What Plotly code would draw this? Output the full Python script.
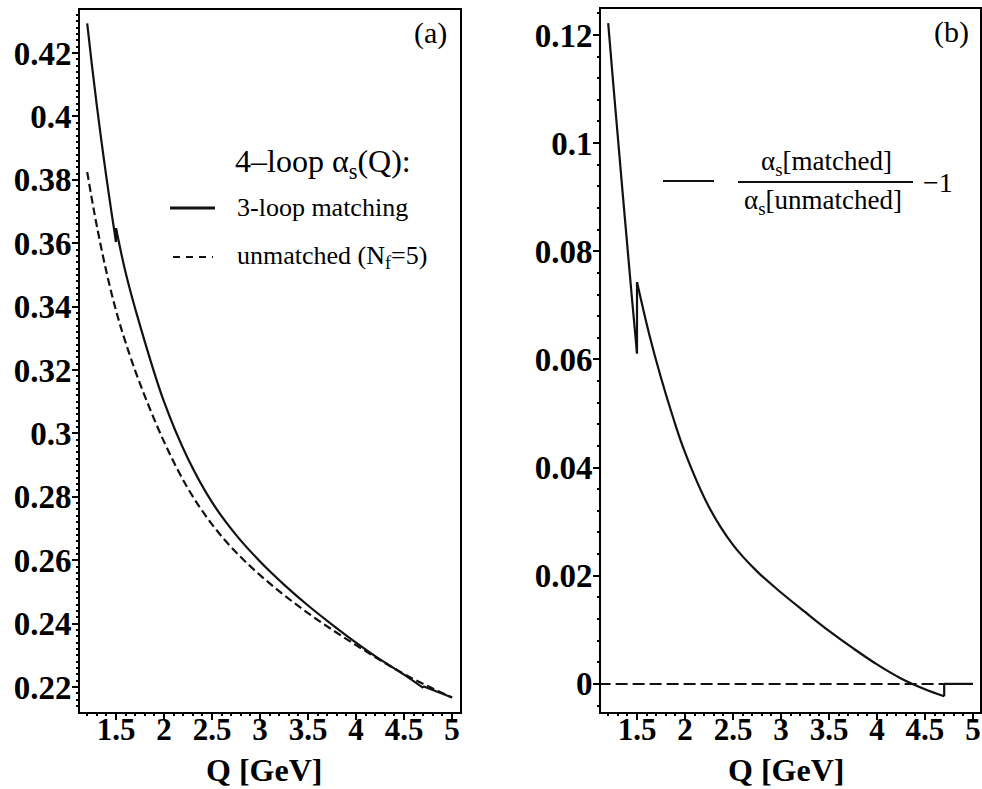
import plotly.graph_objects as go

# ---- data -------------------------------------------------------------
# 4-loop alpha_s(Q) with 3-loop threshold matching (jumps at 1.5 and 4.7 GeV)
q_matched = [1.2, 1.25, 1.3, 1.35, 1.4, 1.45, 1.5, 1.5, 1.6, 1.75, 2.0, 2.25, 2.5,
             2.75, 3.0, 3.25, 3.5, 3.75, 4.0, 4.25, 4.5, 4.7, 4.7, 5.0]
alpha_matched = [0.4294, 0.4160, 0.4035, 0.3918, 0.3808, 0.3704, 0.3604, 0.3648,
                 0.3508, 0.3341, 0.3100, 0.2920, 0.2783, 0.2680, 0.2596, 0.2523,
                 0.2457, 0.2397, 0.2340, 0.2287, 0.2239, 0.2197, 0.2202, 0.2167]

# 4-loop alpha_s(Q), unmatched, N_f = 5 throughout
q_unmatched = [1.2, 1.25, 1.3, 1.4, 1.5, 1.6, 1.75, 2.0, 2.25, 2.5, 2.75, 3.0,
               3.25, 3.5, 3.75, 4.0, 4.25, 4.5, 4.75, 5.0]
alpha_unmatched = [0.3825, 0.3737, 0.3655, 0.3510, 0.3388, 0.3287, 0.3157, 0.2974,
                   0.2826, 0.2713, 0.2625, 0.2553, 0.2490, 0.2433, 0.2381, 0.2332,
                   0.2285, 0.2241, 0.2202, 0.2167]

# relative difference alpha_s[matched]/alpha_s[unmatched] - 1
q_ratio = [1.2, 1.25, 1.3, 1.35, 1.4, 1.45, 1.5, 1.5, 1.625, 1.75, 1.875, 2.0,
           2.25, 2.5, 2.75, 3.0, 3.25, 3.5, 3.75, 4.0, 4.25, 4.5, 4.7, 4.7, 5.0]
ratio = [0.1222, 0.1115, 0.1012, 0.0909, 0.0808, 0.0708, 0.0611, 0.0743, 0.0648,
         0.0566, 0.0493, 0.0428, 0.0327, 0.0257, 0.0208, 0.0169, 0.0133, 0.0098,
         0.0066, 0.0036, 0.0010, -0.0010, -0.0023, 0.0, 0.0]

# reference line at zero
q_zero = [1.1, 5.0]
zero_line = [0.0, 0.0]

# ticks
x_tick_vals = [1.5, 2, 2.5, 3, 3.5, 4, 4.5, 5]
x_tick_text = ["1.5", "2", "2.5", "3", "3.5", "4", "4.5", "5"]
ya_tick_vals = [0.22, 0.24, 0.26, 0.28, 0.30, 0.32, 0.34, 0.36, 0.38, 0.40, 0.42]
ya_tick_text = ["0.22", "0.24", "0.26", "0.28", "0.3", "0.32", "0.34", "0.36",
                "0.38", "0.4", "0.42"]
yb_tick_vals = [0, 0.02, 0.04, 0.06, 0.08, 0.10, 0.12]
yb_tick_text = ["0", "0.02", "0.04", "0.06", "0.08", "0.1", "0.12"]

# minor tick spacing
x_minor_step = 0.1
ya_minor_step = 0.002
yb_minor_step = 0.004

# ---- layout helpers ---------------------------------------------------
W, H = 982, 789
SERIF = "Liberation Serif"
INK = "#111111"

XA_RANGE = [1.125, 5.083]
YA_RANGE = [0.2121, 0.4336]
XB_RANGE = [1.125, 5.073]
YB_RANGE = [-0.0052, 0.1248]


def px(x):
    return x / W


def py(y):
    return 1 - y / H


def pieces(q, v):
    """Split a curve at threshold jumps (repeated Q): smooth runs + vertical steps."""
    start = 0
    for i in range(1, len(q)):
        if q[i] == q[i - 1]:
            yield q[start:i], v[start:i], "spline"
            yield q[i - 1:i + 1], v[i - 1:i + 1], "linear"
            start = i
    yield q[start:], v[start:], "spline"


fig = go.Figure()


def add_curve(q, v, xa, ya, dash="solid", width=2.2):
    for xs, ys, shape in pieces(q, v):
        fig.add_trace(go.Scatter(
            x=xs, y=ys, mode="lines", xaxis=xa, yaxis=ya, showlegend=False,
            hoverinfo="skip",
            line=dict(color=INK, width=width, dash=dash, shape=shape, smoothing=1.0),
        ))


add_curve(q_unmatched, alpha_unmatched, "x", "y", dash="8px,4px")
add_curve(q_matched, alpha_matched, "x", "y")
add_curve(q_zero, zero_line, "x2", "y2", dash="12px,5px", width=2)
add_curve(q_ratio, ratio, "x2", "y2")

# empty traces that carry the overlay axes used for the minor ticks
for xa, ya in (("x3", "y3"), ("x4", "y4")):
    fig.add_trace(go.Scatter(x=[None], y=[None], xaxis=xa, yaxis=ya,
                             mode="lines", showlegend=False, hoverinfo="skip"))


def tfont(size):
    return dict(family=SERIF, size=size, color="black", weight="bold")


axis_common = dict(
    showline=True, linewidth=2, linecolor="black", mirror=True,
    ticks="outside", ticklen=6, tickwidth=2, tickcolor="black",
    showgrid=False, zeroline=False, tickmode="array",
)


def minor_axis(over, anchor, rng, tick0, step, side):
    return dict(overlaying=over, anchor=anchor, range=rng, side=side,
                tickmode="linear", tick0=tick0, dtick=step,
                ticks="outside", ticklen=3, tickwidth=2, tickcolor="black",
                showticklabels=False, showline=False, showgrid=False,
                zeroline=False)


fig.update_layout(
    width=W, height=H, margin=dict(l=0, r=0, t=0, b=0),
    paper_bgcolor="white", plot_bgcolor="rgba(0,0,0,0)",
    xaxis=dict(axis_common, domain=[px(80), px(460)], range=XA_RANGE,
               anchor="y", tickvals=x_tick_vals, ticktext=x_tick_text,
               tickfont=tfont(31), ticklabelstandoff=-17),
    yaxis=dict(axis_common, domain=[py(712), py(10)], range=YA_RANGE,
               anchor="x", tickvals=ya_tick_vals, ticktext=ya_tick_text,
               tickfont=tfont(33), ticklabelstandoff=-6),
    xaxis2=dict(axis_common, domain=[px(601), px(980)], range=XB_RANGE,
                anchor="y2", tickvals=x_tick_vals, ticktext=x_tick_text,
                tickfont=tfont(31), ticklabelstandoff=-17),
    yaxis2=dict(axis_common, domain=[py(712), py(9)], range=YB_RANGE,
                anchor="x2", tickvals=yb_tick_vals, ticktext=yb_tick_text,
                tickfont=tfont(33), ticklabelstandoff=-6),
    xaxis3=minor_axis("x", "y3", XA_RANGE, 1.0, x_minor_step, "bottom"),
    yaxis3=minor_axis("y", "x3", YA_RANGE, 0.2, ya_minor_step, "left"),
    xaxis4=minor_axis("x2", "y4", XB_RANGE, 1.0, x_minor_step, "bottom"),
    yaxis4=minor_axis("y2", "x4", YB_RANGE, 0.0, yb_minor_step, "left"),
)


def text(x, y, s, size, xanchor="left", yanchor="middle", bold=False):
    fig.add_annotation(
        x=px(x), y=py(y), xref="paper", yref="paper", text=s, showarrow=False,
        xanchor=xanchor, yanchor=yanchor, borderpad=0,
        font=dict(family=SERIF, size=size, color="black",
                  weight="bold" if bold else "normal"),
    )


def hline(x0, x1, y, width=2, dash="solid"):
    fig.add_shape(type="line", xref="paper", yref="paper",
                  x0=px(x0), x1=px(x1), y0=py(y), y1=py(y),
                  line=dict(color=INK, width=width, dash=dash))


# panel (a) legend
text(234, 163, "4–loop α<sub>s</sub>(Q):", 32)
hline(170, 215, 208, width=3)
text(236, 208, "3-loop matching", 26)
hline(173, 213, 257, width=2, dash="7px,6px")
text(236, 257, "unmatched (N<sub>f</sub>=5)", 26)

# panel (b) legend
hline(663, 714, 181, width=2)
text(826, 163, "α<sub>s</sub>[matched]", 27, xanchor="center")
hline(738, 913, 182, width=2)
text(823, 202, "α<sub>s</sub>[unmatched]", 27, xanchor="center")
text(922, 182, "−1", 28)

# panel labels
text(430, 33, "(a)", 30, xanchor="center")
text(951, 32, "(b)", 30, xanchor="center")

# axis titles
text(264, 789, "Q [GeV]", 32, xanchor="center", yanchor="bottom", bold=True)
text(786, 789, "Q [GeV]", 32, xanchor="center", yanchor="bottom", bold=True)

fig.write_html("out.html")
